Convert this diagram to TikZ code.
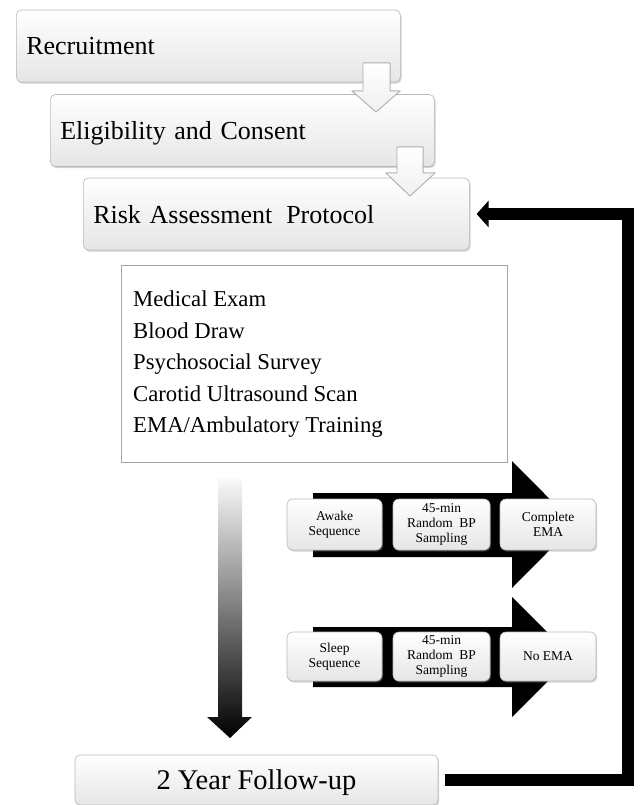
\documentclass[tikz,border=0pt]{standalone}
\usepackage{fontspec}
\setmainfont{Liberation Serif}
\usetikzlibrary{shadows,arrows.meta}
\begin{document}
\begin{tikzpicture}[x=1pt,y=-1pt,
  glossy/.style={rounded corners=5pt, draw=gray!55, line width=0.6pt,
    top color=white, bottom color=gray!20,
    drop shadow={shadow xshift=1.2pt, shadow yshift=-1.6pt, opacity=0.35}},
  bigbox/.style={glossy, minimum height=72pt, inner xsep=10pt, inner ysep=0pt,
    text height=18pt, text depth=0pt, align=left, anchor=west,
    font=\fontsize{26}{30}\selectfont},
  smallbox/.style={glossy, rounded corners=6pt, inner sep=0pt, align=center,
    font=\fontsize{13.5}{15}\selectfont},
  hollow/.style={draw=gray!65, line width=0.8pt, top color=white, bottom color=gray!12, line join=miter},
  loopline/.style={line width=12pt, line join=miter,
    -{Triangle[length=12pt,width=26pt]}},
]
\useasboundingbox (0,0) rectangle (641,805);

% staircase boxes
\node[bigbox, text width=364pt] (recruit) at (16,46) {Recruitment};
\node[bigbox, text width=364pt] (elig) at (50,130.5) {Eligibility and Consent};
\node[bigbox, text width=366pt] (risk) at (83,214) {Risk Assessment\hspace{0.2em} Protocol};

% hollow block arrows between stair boxes
\filldraw[hollow] (363,63) -- (390,63) -- (390,91) -- (400,91) -- (376,112) -- (352,91) -- (363,91) -- cycle;
\filldraw[hollow] (397,147) -- (423,147) -- (423,173) -- (435,173) -- (410,196) -- (386,173) -- (397,173) -- cycle;

% list box
\node[draw=gray!70, line width=0.6pt, fill=white, minimum width=386pt, minimum height=197pt,
      inner sep=0pt, anchor=north west,
      drop shadow={shadow xshift=1pt, shadow yshift=-1pt, opacity=0.2}] (exams) at (121,265) {};
\node[anchor=north west, inner sep=0pt, align=left,
      font=\fontsize{22.7}{31.5}\selectfont] (examlist) at (133,291)
  {Medical Exam\\Blood Draw\\Psychosocial Survey\\Carotid Ultrasound Scan\\EMA/Ambulatory Training};

% gradient down arrow
\shade[top color=gray!4, bottom color=black]
  (218,478) -- (242,478) -- (242,717) -- (252,717) -- (230,738) -- (207,717) -- (218,717) -- cycle;

% black block arrows
\fill[black] (313,493) -- (512,493) -- (512,461) -- (575,524.5) -- (512,588) -- (512,557) -- (313,557) -- cycle;
\fill[black] (313,627) -- (512,627) -- (512,597) -- (572,657) -- (512,717) -- (512,687) -- (313,687) -- cycle;

% sequence boxes
\node[smallbox, minimum width=95pt, minimum height=51pt] (awake) at (334.5,524.5) {Awake\\Sequence};
\node[smallbox, minimum width=97pt, minimum height=51pt] (bp1) at (441.5,524.5) {45-min\\Random\hspace{0.25em} BP\\Sampling};
\node[smallbox, minimum width=96pt, minimum height=51pt] (complete) at (548,524.5) {Complete\\EMA};
\node[smallbox, minimum width=95pt, minimum height=49pt] (sleep) at (334.5,656.5) {Sleep\\Sequence};
\node[smallbox, minimum width=97pt, minimum height=49pt] (bp2) at (441.5,656.5) {45-min\\Random\hspace{0.25em} BP\\Sampling};
\node[smallbox, minimum width=96pt, minimum height=49pt] (noema) at (548,656.5) {No EMA};

% follow-up box
\node[glossy, minimum width=363pt, minimum height=50pt, inner sep=0pt,
      text height=19pt, text depth=0pt, font=\fontsize{28.5}{32}\selectfont] (fu) at (256.5,780) {2 Year Follow-up};

% loop back arrow
\coordinate (loopcorner) at (627.5,500);
\draw[loopline] ([xshift=7pt]fu.east) -| (loopcorner) |- ([xshift=7pt]risk.east);
\end{tikzpicture}
\end{document}
